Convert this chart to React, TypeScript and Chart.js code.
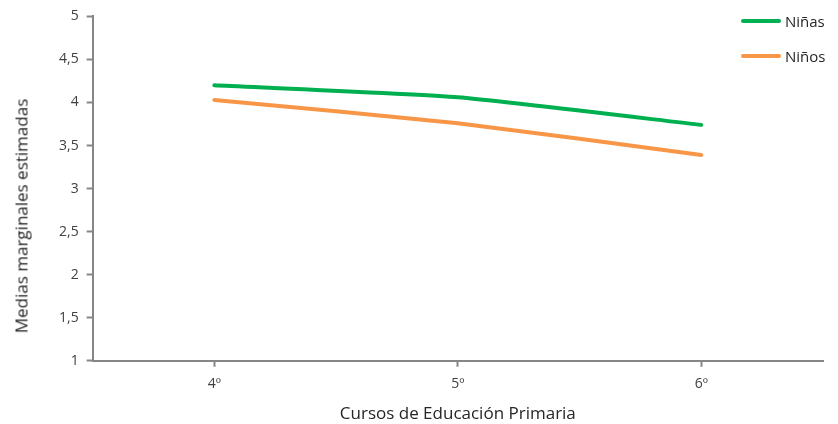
import { useEffect, useRef } from "react";
import { Chart, registerables } from "chart.js";

Chart.register(...registerables);

const cursos = ["4º", "5º", "6º"];
const ninas = [4.2, 4.06, 3.74];
const ninos = [4.03, 3.76, 3.39];
const serieNombres = ["Niñas", "Niños"];
const colores = ["#00B050", "#F79646"];

const gris = "#868686";
const fuente = "'Open Sans', 'Noto Sans', sans-serif";

export default function App() {
  const canvasRef = useRef<HTMLCanvasElement>(null);
  const chartRef = useRef<Chart | null>(null);

  useEffect(() => {
    if (!canvasRef.current) return;
    document.body.style.margin = "0";

    if (chartRef.current) chartRef.current.destroy();

    chartRef.current = new Chart(canvasRef.current, {
      type: "line",
      data: {
        labels: cursos,
        datasets: [
          {
            label: serieNombres[0],
            data: ninas,
            borderColor: colores[0],
            backgroundColor: colores[0],
            borderWidth: 4,
            pointRadius: 0,
            tension: 0.15,
            borderCapStyle: "round",
          },
          {
            label: serieNombres[1],
            data: ninos,
            borderColor: colores[1],
            backgroundColor: colores[1],
            borderWidth: 4,
            pointRadius: 0,
            tension: 0.15,
            borderCapStyle: "round",
          },
        ],
      },
      options: {
        animation: false,
        responsive: true,
        maintainAspectRatio: false,
        layout: { padding: { top: 9, right: 15, left: 51, bottom: 0 } },
        plugins: {
          legend: { display: false },
          tooltip: { enabled: false },
        },
        scales: {
          x: {
            offset: true,
            grid: {
              drawOnChartArea: false,
              offset: false,
              tickLength: 6,
              tickColor: gris,
              tickWidth: 2,
            },
            border: { color: gris, width: 2 },
            ticks: {
              color: "#404040",
              font: { family: fuente, size: 14 },
              padding: 9,
            },
            title: {
              display: true,
              text: "Cursos de Educación Primaria",
              color: "#262626",
              font: { family: fuente, size: 17 },
              padding: { top: 2, bottom: 0 },
            },
          },
          y: {
            min: 1,
            max: 5,
            grid: {
              drawOnChartArea: false,
              tickLength: 6,
              tickColor: gris,
              tickWidth: 2,
            },
            border: { color: gris, width: 2 },
            ticks: {
              stepSize: 0.5,
              color: "#404040",
              font: { family: fuente, size: 14 },
              padding: 8,
              callback: (v) => String(v).replace(".", ","),
            },
          },
        },
      },
    });

    return () => {
      if (chartRef.current) {
        chartRef.current.destroy();
        chartRef.current = null;
      }
    };
  }, []);

  return (
    <div style={{ position: "relative", width: 838, height: 424, background: "#fff" }}>
      <canvas ref={canvasRef} />
      <div
        style={{
          position: "absolute",
          left: 21,
          top: 216,
          transform: "translate(-50%, -50%) rotate(-90deg)",
          whiteSpace: "nowrap",
          fontFamily: fuente,
          fontSize: 17,
          color: "#262626",
        }}
      >
        Medias marginales estimadas
      </div>
      {serieNombres.map((n, i) => (
        <div
          key={n}
          style={{
            position: "absolute",
            left: 741,
            top: 11 + i * 35,
            display: "flex",
            alignItems: "center",
            fontFamily: fuente,
            fontSize: 15,
            color: "#262626",
          }}
        >
          <span
            style={{
              display: "inline-block",
              width: 40,
              height: 4,
              borderRadius: 2,
              background: colores[i],
              marginRight: 4,
            }}
          />
          {n}
        </div>
      ))}
    </div>
  );
}
